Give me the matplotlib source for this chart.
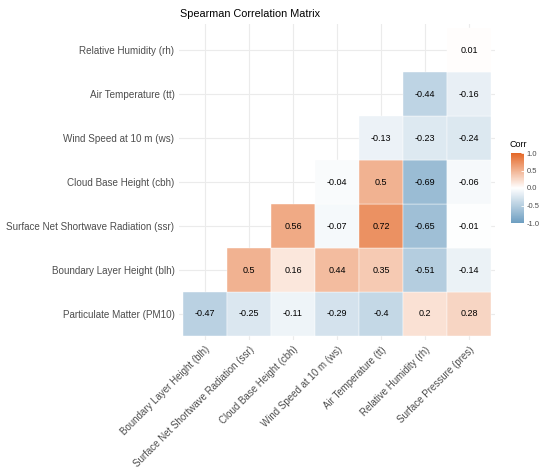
import numpy as np
import matplotlib
matplotlib.use("Agg")
from matplotlib import pyplot as plt
from matplotlib.colors import LinearSegmentedColormap, Normalize
from matplotlib.cm import ScalarMappable
from matplotlib.patches import Rectangle

plt.rcParams['font.family'] = ['Liberation Sans', 'DejaVu Sans']

row_labels = ["Particulate Matter (PM10)", "Boundary Layer Height (blh)",
              "Surface Net Shortwave Radiation (ssr)", "Cloud Base Height (cbh)",
              "Wind Speed at 10 m (ws)", "Air Temperature (tt)", "Relative Humidity (rh)"]
col_labels = ["Boundary Layer Height (blh)", "Surface Net Shortwave Radiation (ssr)",
              "Cloud Base Height (cbh)", "Wind Speed at 10 m (ws)", "Air Temperature (tt)",
              "Relative Humidity (rh)", "Surface Pressure (pres)"]

nan = np.nan
corr_pm10 = [-0.47, -0.25, -0.11, -0.29, -0.4, 0.2, 0.28]
corr_blh = [nan, 0.5, 0.16, 0.44, 0.35, -0.51, -0.14]
corr_ssr = [nan, nan, 0.56, -0.07, 0.72, -0.65, -0.01]
corr_cbh = [nan, nan, nan, -0.04, 0.5, -0.69, -0.06]
corr_ws = [nan, nan, nan, nan, -0.13, -0.23, -0.24]
corr_tt = [nan, nan, nan, nan, nan, -0.44, -0.16]
corr_rh = [nan, nan, nan, nan, nan, nan, 0.01]

cbar_ticks = [-1.0, -0.5, 0.0, 0.5, 1.0]

mat = np.array([corr_pm10, corr_blh, corr_ssr, corr_cbh, corr_ws, corr_tt, corr_rh])
cmap = LinearSegmentedColormap.from_list("corr", ["#6D9EC1", "white", "#E46726"])
norm = Normalize(-1, 1)

fig = plt.figure(figsize=(5.5, 4.74), dpi=100)
ax = fig.add_axes([0.3247, 0.2819, 0.576, 0.668])

n_r, n_c = mat.shape
# grid lines like theme_minimal
for i in range(n_c):
    ax.axvline(i, color="#EBEBEB", lw=0.8, zorder=0)
for j in range(n_r):
    ax.axhline(j, color="#EBEBEB", lw=0.8, zorder=0)

for j in range(n_r):
    for i in range(n_c):
        v = mat[j, i]
        if np.isnan(v):
            continue
        ax.add_patch(Rectangle((i - 0.5, j - 0.5), 1, 1, facecolor=cmap(norm(v)),
                               edgecolor="white", linewidth=0.3, zorder=1))
        ax.text(i, j, f"{v:g}", ha="center", va="center", fontsize=6.5,
                color="black", zorder=2)

ax.set_xlim(-0.6, n_c - 0.4)
ax.set_ylim(-0.6, n_r - 0.4)
ax.set_xticks(range(n_c))
ax.set_xticklabels(col_labels, rotation=45, ha="right", va="top",
                   rotation_mode="anchor", fontsize=7.0, color="#4D4D4D")
ax.set_yticks(range(n_r))
ax.set_yticklabels(row_labels, fontsize=7.1, color="#4D4D4D")
ax.tick_params(length=0, pad=3)
for s in ax.spines.values():
    s.set_visible(False)

fig.text(0.327, 0.97, "Spearman Correlation Matrix", fontsize=7.8, ha="left", va="center")

# colorbar legend
cax = fig.add_axes([511 / 550, 1 - 223 / 474, 13 / 550, 70 / 474])
cb = fig.colorbar(ScalarMappable(cmap=cmap, norm=norm), cax=cax, ticks=cbar_ticks)
cb.outline.set_visible(False)
cb.ax.tick_params(length=2.5, width=0.6, color="white", direction="in",
                  labelsize=5.5, labelcolor="#4D4D4D", pad=2)
cb.ax.set_yticklabels([f"{t:.1f}" for t in cbar_ticks])
fig.text(510 / 550, 1 - 145 / 474, "Corr", fontsize=6.5, ha="left", va="center")

fig.savefig("out.png", dpi=100)
